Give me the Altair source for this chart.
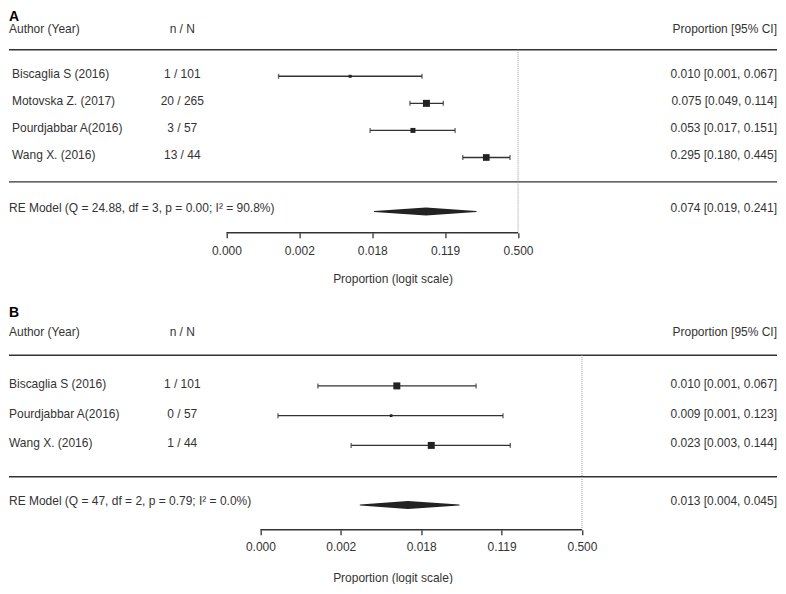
import altair as alt
import pandas as pd

# ---------------- data ----------------
A_authors = ["Biscaglia S (2016)", "Motovska Z. (2017)", "Pourdjabbar A(2016)", "Wang X. (2016)"]
A_n = [1, 20, 3, 13]
A_N = [101, 265, 57, 44]
A_est = [0.0099, 0.075, 0.053, 0.295]
A_lo = [0.0014, 0.049, 0.017, 0.180]
A_hi = [0.067, 0.114, 0.151, 0.445]
A_weight = [13.8, 32.3, 23.0, 30.9]
A_re = [0.074, 0.019, 0.241]          # estimate, lower, upper
A_re_label = "RE Model (Q = 24.88, df = 3, p = 0.00; I\u00b2 = 90.8%)"

B_authors = ["Biscaglia S (2016)", "Pourdjabbar A(2016)", "Wang X. (2016)"]
B_n = [1, 0, 1]
B_N = [101, 57, 44]
B_est = [0.0099, 0.0086, 0.023]
B_lo = [0.0014, 0.00052, 0.0032]
B_hi = [0.067, 0.123, 0.144]
B_weight = [42, 16, 42]
B_re = [0.013, 0.004, 0.045]
B_re_label = "RE Model (Q = 47, df = 2, p = 0.79; I\u00b2 = 0.0%)"

AXIS_TICKS = [-8, -6, -4, -2, 0]      # logit units
AXIS_TITLE = "Proportion (logit scale)"
HEADERS = ["Author (Year)", "n / N", "Proportion [95% CI]"]

# ---------------- style / layout ----------------
FONT = "Liberation Sans"
INK = "#333333"
W = 770

GEO_A = dict(zero_px=509.7, ppu=36.5, row0=176.4, rowpx=27.1, height=224.7,
             hdr_y=21, line_top=41.5, line_bot=173.7, letter_y=1.5,
             name_x=3, nn_x=173.5, ci_x=769, label_pad=7.8, title_y=41)
GEO_B = dict(zero_px=573.7, ppu=40.25, row0=177.1, rowpx=29.8, height=231.7,
             hdr_y=34, line_top=57, line_bot=178.7, letter_y=8,
             name_x=0, nn_x=173.5, ci_x=769, label_pad=7.1, title_y=43)
PANEL_GAP = 65.3

LOGIT = "log({v}/(1-{v}))"


def panel(letter, authors, n, N, est, lo, hi, weight, re, re_label, g):
    k = len(authors)
    df = pd.DataFrame({"author": authors, "n": n, "N": N, "est": est,
                       "lo": lo, "hi": hi, "w": weight})
    df["row"] = [k - i for i in range(k)]
    df["nN"] = [f"{a} / {b}" for a, b in zip(n, N)]

    xs = alt.Scale(domain=[-g["zero_px"] / g["ppu"], (W - g["zero_px"]) / g["ppu"]],
                   nice=False, zero=False)
    ys = alt.Scale(domain=[(g["row0"] - g["height"]) / g["rowpx"], g["row0"] / g["rowpx"]],
                   nice=False, zero=False)
    x_axis = alt.Axis(values=AXIS_TICKS,
                      labelExpr="format(1/(1+exp(-datum.value)), '.3f')",
                      title=AXIS_TITLE, domain=False, grid=False,
                      tickSize=5, tickWidth=1.3, tickColor=INK,
                      labelFont=FONT, labelFontSize=12, labelColor=INK,
                      labelPadding=g["label_pad"], labelFlush=False,
                      labelOverlap=False,
                      titleFont=FONT, titleFontSize=12, titleFontWeight="normal",
                      titleColor=INK, titleX=384, titleY=g["title_y"])

    def X(f):
        return alt.X(f, type="quantitative", scale=xs, axis=x_axis)

    def Y(f):
        return alt.Y(f, type="quantitative", scale=ys, axis=None)

    H = g["height"]
    base = alt.Chart(df).transform_calculate(
        L=LOGIT.format(v="datum.est"),
        Llo=LOGIT.format(v="datum.lo"),
        Lhi=LOGIT.format(v="datum.hi"),
        ci="format(datum.est,'.3f') + ' [' + format(datum.lo,'.3f') + ', ' + format(datum.hi,'.3f') + ']'",
    )

    one = alt.Chart(pd.DataFrame({"z": [0]}))

    # separator lines
    lines = one.mark_rule(color=INK, strokeWidth=1.4).encode(
        x=alt.value(0), x2=alt.value(W - 1), y=alt.value(g["line_top"]))
    lines2 = one.mark_rule(color=INK, strokeWidth=1.4).encode(
        x=alt.value(0), x2=alt.value(W - 1), y=alt.value(g["line_bot"]))
    # reference line at proportion 0.5
    ref = one.mark_rule(color="#999999", strokeWidth=1, strokeDash=[1, 1]).encode(
        x=X("z"), y=alt.value(g["line_top"]), y2=alt.value(H))
    # axis line from first to last tick
    axdf = pd.DataFrame({"a": [min(AXIS_TICKS)], "b": [max(AXIS_TICKS)]})
    axline = alt.Chart(axdf).mark_rule(color=INK, strokeWidth=1.4).encode(
        x=X("a"), x2="b", y=alt.value(H))

    ci = base.mark_rule(color=INK, strokeWidth=1.4).encode(x=X("Llo"), x2="Lhi", y=Y("row"))
    caps = base.transform_fold(["Llo", "Lhi"], as_=["k", "v"]).mark_tick(
        orient="vertical", size=5, thickness=1.4, color=INK).encode(x=X("v"), y=Y("row"))
    squares = base.mark_square(color="#222222", opacity=1).encode(
        x=X("L"), y=Y("row"),
        size=alt.Size("w:Q", scale=alt.Scale(type="pow", exponent=2,
                                             domain=[0, max(weight)], range=[0, 49]),
                      legend=None))

    # summary diamond
    dd = pd.DataFrame({"p": [re[1], re[0], re[2]], "peak": [0, 1, 0], "r": [-1, -1, -1]})
    diamond = alt.Chart(dd).transform_calculate(Lp=LOGIT.format(v="datum.p")).mark_trail(
        color="#222222").encode(
        x=X("Lp"), y=Y("r"),
        size=alt.Size("peak:Q", scale=alt.Scale(domain=[0, 1], range=[0, 8]), legend=None))

    txt = dict(font=FONT, fontSize=12, color=INK, baseline="middle")
    names = base.mark_text(align="left", dy=-2, **txt).encode(
        x=alt.value(g["name_x"]), y=Y("row"), text="author:N")
    nn = base.mark_text(align="center", dy=-2, **txt).encode(
        x=alt.value(g["nn_x"]), y=Y("row"), text="nN:N")
    cis = base.mark_text(align="right", dy=-2, **txt).encode(
        x=alt.value(g["ci_x"]), y=Y("row"), text="ci:N")

    redf = pd.DataFrame({"label": [re_label], "r": [-1],
                         "ci": [f"{re[0]:.3f} [{re[1]:.3f}, {re[2]:.3f}]"]})
    re_name = alt.Chart(redf).mark_text(align="left", dy=-4, **txt).encode(
        x=alt.value(0), y=Y("r"), text="label:N")
    re_ci = alt.Chart(redf).mark_text(align="right", dy=-4, **txt).encode(
        x=alt.value(g["ci_x"]), y=Y("r"), text="ci:N")

    hdr = [
        one.mark_text(text=HEADERS[0], align="left", **txt).encode(
            x=alt.value(0), y=alt.value(g["hdr_y"])),
        one.mark_text(text=HEADERS[1], align="center", **txt).encode(
            x=alt.value(g["nn_x"]), y=alt.value(g["hdr_y"])),
        one.mark_text(text=HEADERS[2], align="right", **txt).encode(
            x=alt.value(g["ci_x"]), y=alt.value(g["hdr_y"])),
        one.mark_text(text=letter, align="left", baseline="top", font=FONT,
                      fontSize=14, fontWeight="bold", color="#000000").encode(
            x=alt.value(0), y=alt.value(g["letter_y"])),
    ]

    return alt.layer(lines, lines2, ref, axline, ci, caps, squares, diamond,
                     names, nn, cis, re_name, re_ci, *hdr).resolve_scale(
        size="independent").properties(width=W, height=H)


pA = panel("A", A_authors, A_n, A_N, A_est, A_lo, A_hi, A_weight, A_re, A_re_label, GEO_A)
pB = panel("B", B_authors, B_n, B_N, B_est, B_lo, B_hi, B_weight, B_re, B_re_label, GEO_B)

chart = alt.vconcat(pA, pB, spacing=PANEL_GAP, bounds="flush").resolve_scale(
    x="independent", y="independent", size="independent").properties(
    padding=0).configure_view(stroke=None)

chart.save("out.html", embed_options={"renderer": "svg", "actions": False})
